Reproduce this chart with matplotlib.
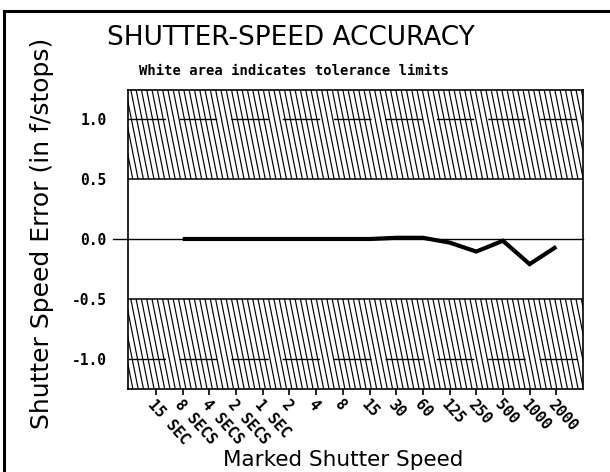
import matplotlib
matplotlib.use("Agg")
import matplotlib.pyplot as plt
import numpy as np
from matplotlib.collections import LineCollection
from matplotlib.lines import Line2D

# ---- data ----
tick_labels = ["15 SEC", "8 SECS", "4 SECS", "2 SECS", "1 SEC", "2", "4", "8",
               "15", "30", "60", "125", "250", "500", "1000", "2000"]
speed_labels = ["8 SECS", "4 SECS", "2 SECS", "1 SEC", "2", "4", "8",
                "15", "30", "60", "125", "250", "500", "1000", "2000"]
errors = [0.0, 0.0, 0.0, 0.0, 0.0, 0.0, 0.0, 0.0, 0.01, 0.01, -0.03,
          -0.105, -0.015, -0.21, -0.065]
ytick_vals = [-1.0, -0.5, 0.0, 0.5, 1.0]
ytick_text = ["-1.0", "-0.5", "0.0", "0.5", "1.0"]
tolerance = 0.5
ylim = 1.25

W, H = 610, 472
fig = plt.figure(figsize=(W / 100, H / 100), dpi=100)
fig.patch.set_facecolor("white")

def fx(px):
    return px / W

def fy(py):
    return 1 - py / H

ax_l, ax_r, ax_t, ax_b = 127.5, 583.0, 89.5, 388.5
ax = fig.add_axes([fx(ax_l), fy(ax_b), fx(ax_r - ax_l), (ax_b - ax_t) / H])

xpos = {lab: i + 1 for i, lab in enumerate(tick_labels)}
x_vals = [xpos[s] for s in speed_labels]
x0, x1 = -0.07, len(tick_labels) + 1
ax.set_xlim(x0, x1)
ax.set_ylim(-ylim, ylim)

# hatch (steep backslash lines) in tolerance-exceeding bands
px_x = (ax_r - ax_l) / (x1 - x0)
px_y = (ax_b - ax_t) / (2 * ylim)
spacing = 5.3 / px_x
slope = 0.2  # horizontal px per vertical px
segs = []
for (b0, b1) in [(tolerance, ylim), (-ylim, -tolerance)]:
    shift = slope * (b1 - b0) * px_y / px_x
    xs = np.arange(x0 - shift - spacing, x1 + spacing, spacing)
    for xt in xs:
        segs.append([(xt, b1), (xt + shift, b0)])
ax.add_collection(LineCollection(segs, colors="black", linewidths=0.85, zorder=1))

ax.axhline(tolerance, color="black", lw=1.1, zorder=2)
ax.axhline(-tolerance, color="black", lw=1.1, zorder=2)
for v in (1.0, -1.0):
    ax.axhline(v, color="black", lw=1.0, dashes=(27, 10), zorder=2)

# zero line, extending out to the left as a tick
ax.plot([-15 / (ax_r - ax_l), 1], [0, 0], color="black", lw=1.0,
        transform=ax.get_yaxis_transform(), clip_on=False, zorder=2)

ax.plot(x_vals, errors, color="black", lw=3.0, solid_joinstyle="miter",
        solid_capstyle="butt", zorder=3)

for s in ax.spines.values():
    s.set_linewidth(1.2)

ax.set_xticks(list(range(1, len(tick_labels) + 1)))
ax.set_xticklabels(tick_labels, rotation=-48, rotation_mode="anchor",
                   ha="left", va="top", family="DejaVu Sans Mono",
                   fontweight="bold", fontsize=10.8)
ax.tick_params(axis="x", direction="out", length=4, width=1.2, pad=2)
ax.set_yticks(ytick_vals)
ax.set_yticklabels(ytick_text, family="DejaVu Sans Mono", fontweight="bold",
                   fontsize=10.5)
ax.tick_params(axis="y", length=0, pad=15)

fig.text(fx(291), fy(38), "SHUTTER-SPEED ACCURACY", ha="center", va="center",
         fontsize=19, family="DejaVu Sans")
fig.text(fx(294), fy(71), "White area indicates tolerance limits", ha="center",
         va="center", fontsize=10, family="DejaVu Sans Mono", fontweight="bold")
fig.text(fx(42), fy(233), "Shutter Speed Error (in f/stops)", rotation=90,
         ha="center", va="center", fontsize=18, family="DejaVu Sans")
fig.text(fx(343), fy(460), "Marked Shutter Speed", ha="center", va="center",
         fontsize=15.5, family="DejaVu Sans")

# outer frame (top and left edges visible)
fig.add_artist(Line2D([fx(4), 1.0], [fy(11), fy(11)], color="black", lw=2.2,
                      transform=fig.transFigure))
fig.add_artist(Line2D([fx(4), fx(4)], [fy(11), 0.0], color="black", lw=2.2,
                      transform=fig.transFigure))

fig.savefig("out.png", dpi=100, facecolor="white")
